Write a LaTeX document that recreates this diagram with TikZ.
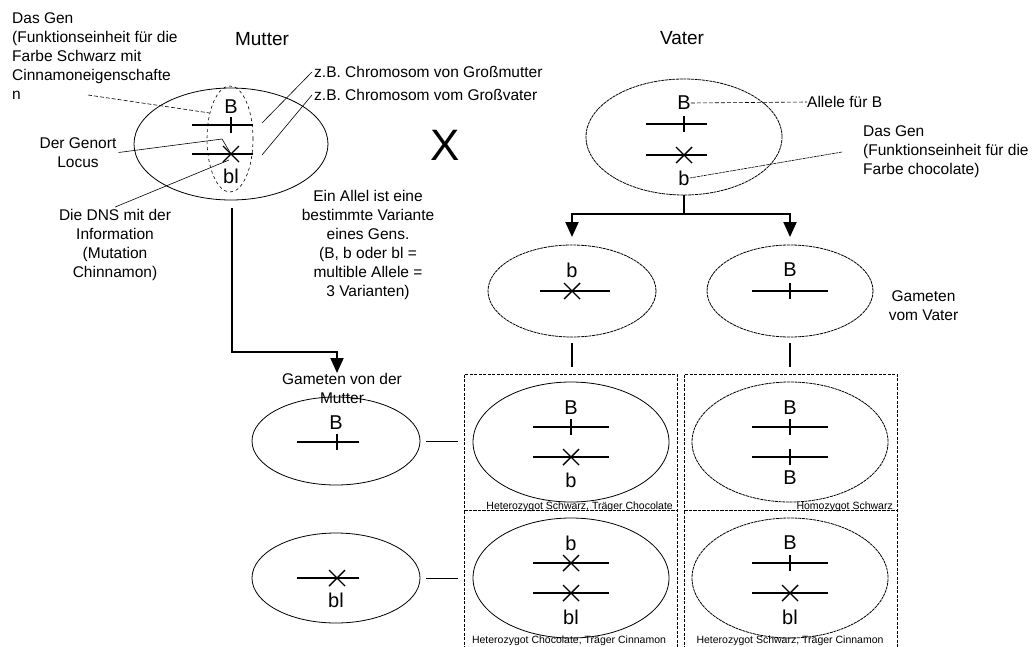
\documentclass[tikz,border=0pt]{standalone}
\usepackage{fontspec}
\setmainfont{Liberation Sans}
\usepackage{tikz}
\usetikzlibrary{arrows.meta, shapes.geometric}

\newcommand{\klein}{\fontsize{15.5}{19}\selectfont}
\newcommand{\winzig}{\fontsize{10.5}{12}\selectfont}
\newcommand{\allelfont}{\fontsize{20}{22}\selectfont}
\newcommand{\titelfont}{\fontsize{19}{22}\selectfont}

\tikzset{
  zelle/.style={rectangle, draw, line width=0.6pt, dash pattern=on 3pt off 1.5pt, minimum width=213pt, inner sep=0pt},
  zygote/.style={ellipse, draw, line width=0.8pt, inner sep=0pt, minimum width=196pt, minimum height=120pt},
  gamet/.style={ellipse, draw, line width=0.8pt, inner sep=0pt, minimum width=168pt, minimum height=90pt},
  fein/.style={dash pattern=on 3pt off 0.7pt},
  allel/.style={inner sep=0pt, font=\allelfont},
  info/.style={inner sep=2pt, font=\klein},
  typ/.style={inner sep=0pt, font=\winzig},
  chrom/.style={line width=1.4pt},
  zeiger/.style={line width=0.6pt},
  zeigerstrich/.style={line width=0.6pt, dash pattern=on 4pt off 2pt},
  strich/.style={line width=2pt},
  pfeil/.style={line width=2pt, -{Triangle[width=13pt,length=15pt]}},
  strichmarke/.pic={\draw[chrom] (0,-8) -- (0,8);},
  kreuzmarke/.pic={\draw[chrom] (-8,-8) -- (8,8) (-8,8) -- (8,-8);}
}

\begin{document}
\begin{tikzpicture}[x=1pt, y=-1pt]
\useasboundingbox (0,0) rectangle (1035,646);

% Mutter
\draw (262,39) node[info, font=\titelfont] (titelmutter) {Mutter};

\draw (231,144) node[ellipse, draw, line width=0.8pt, inner sep=0pt, minimum width=194pt, minimum height=112pt] (mutter) {};

\draw (230,139) node[ellipse, draw, dashed, line width=0.6pt, inner sep=0pt, minimum width=46pt, minimum height=106pt] (strang) {};

\draw[chrom] (192,125) -- (253,125);
\draw[chrom] (192,154) -- (253,154);
\pic at (231,125) {strichmarke};
\pic at (231,154) {kreuzmarke};
\draw (231,107) node[allel] (mB) {B};
\draw (231,176) node[allel] (mbl) {bl};

\coordinate (m-locus) at (231,154);
\coordinate (m-dns) at (229,160);
\coordinate (m-knick) at (222,139);
\coordinate (m-chr1) at (262,123);
\coordinate (m-chr2) at (262,155);
\coordinate (m-gen) at (88,95);

\draw (12,56.5) node[info, anchor=west, align=left, inner sep=0pt] (mgentext) {Das Gen\\(Funktionseinheit f\"ur die\\Farbe Schwarz mit\\Cinnamoneigenschafte\\n};

\draw (78,152.5) node[info, align=center] (genort) {Der Genort\\Locus};

\draw (115,245) node[info, align=center] (dns) {Die DNS mit der\\Information\\(Mutation\\Chinnamon)};

\draw (312,72) node[info, anchor=west] (grossmutter) {z.B. Chromosom von Gro\ss mutter};
\draw (312,95) node[info, anchor=west] (grossvater) {z.B. Chromosom vom Gro\ss vater};

\draw[zeigerstrich] (m-gen) -- (strang.128);
\draw[zeiger] (genort.east) -- (m-knick) -- (m-locus);
\draw[zeiger] (dns.north) -- (m-dns);
\draw[zeiger] (grossmutter.west) -- (m-chr1);
\draw[zeiger] (grossvater.west) -- (m-chr2);

% Kreuzung
\draw (445,145) node[inner sep=0pt, font=\fontsize{44}{48}\selectfont] (kreuzung) {X};

\draw (368,245) node[info, align=center] (allelinfo) {Ein Allel ist eine\\bestimmte Variante\\eines Gens.\\(B, b oder bl =\\multible Allele =\\3 Varianten)};

% Vater
\draw (682,38) node[info, font=\titelfont] (titelvater) {Vater};

\draw (684,137) node[zygote, fein, minimum height=116pt] (vater) {};

\draw[chrom] (646,124) -- (707,124);
\draw[chrom] (646,155) -- (707,155);
\pic at (684,124) {strichmarke};
\pic at (684,155) {kreuzmarke};
\draw (684,103) node[allel] (vB) {B};
\draw (684,178) node[allel] (vb) {b};

\draw (807,102) node[info, anchor=west, inner sep=0pt] (allelB) {Allele f\"ur B};
\draw (863,152) node[info, anchor=west, align=left, inner sep=0pt] (vgentext) {Das Gen\\(Funktionseinheit f\"ur die\\Farbe chocolate)};
\coordinate (v-gen) at (842,152);

\draw[zeigerstrich] (vB.east) -- (allelB.west);
\draw[zeiger, fein] (v-gen) -- (vb.east);

% Gameten vom Vater
\coordinate (v-knoten) at (684,214);
\coordinate (v-pfeil1) at (572,237);
\coordinate (v-pfeil2) at (790,237);
\draw[strich] (vater.south) -- (v-knoten);
\draw[pfeil] (v-knoten) -| (v-pfeil1);
\draw[pfeil] (v-knoten) -| (v-pfeil2);

\draw (572,291) node[gamet, fein, minimum height=92pt] (vg1) {};
\draw (790,291) node[gamet, fein, minimum width=166pt, minimum height=92pt] (vg2) {};

\draw[chrom] (540,291) -- (610,291);
\pic at (572,291) {kreuzmarke};
\draw (572,270) node[allel] (vg1b) {b};

\draw[chrom] (752,291) -- (828,291);
\pic at (790,291) {strichmarke};
\draw (790,270) node[allel] (vg2B) {B};

\draw (923.5,306) node[info, align=center] (gamvater) {Gameten\\vom Vater};

\draw[strich] (vg1.south) ++(0,6) -- ++(0,24);
\draw[strich] (vg2.south) ++(0,6) -- ++(0,24);

% Gameten von der Mutter
\coordinate (m-aus) at (232,208);
\coordinate (m-ecke) at (232,352);
\coordinate (m-ein) at (337,373);
\draw[pfeil] (m-aus) -- (m-ecke) -| (m-ein);

\draw (336,441) node[gamet, minimum height=88pt] (mg1) {};
\draw (336,578) node[gamet] (mg2) {};

\draw (342,388) node[info, align=center, fill=none] (gammutter) {Gameten von der\\Mutter};

\draw[chrom] (297,442) -- (359,442);
\pic at (337,442) {strichmarke};
\draw (336,423) node[allel] (mg1B) {B};

\draw[chrom] (297,578) -- (359,578);
\pic at (337,578) {kreuzmarke};
\draw (336,600) node[allel] (mg2bl) {bl};

\draw[zeiger, line width=1pt] (mg1.east) ++(6,0) -- ++(32,0);
\draw[zeiger, line width=1pt] (mg2.east) ++(6,0) -- ++(32,0);

% Kombinationen
\draw (570.5,442) node[zelle, minimum height=136pt] (c11) {};
\draw (790.5,442) node[zelle, minimum height=136pt] (c12) {};
\draw (570.5,580) node[zelle, minimum height=140pt] (c21) {};
\draw (790.5,580) node[zelle, minimum height=140pt] (c22) {};

\draw (571,442) node[zygote] (k11) {};
\draw (790,442) node[zygote, fein] (k12) {};
\draw (571,578) node[zygote] (k21) {};
\draw (790,578) node[zygote, fein] (k22) {};

\draw[chrom] (533,427) -- (609,427);
\draw[chrom] (533,457) -- (609,457);
\pic at (571,427) {strichmarke};
\pic at (571,457) {kreuzmarke};
\draw (571,408) node[allel] (k11B) {B};
\draw (571,480) node[allel] (k11b) {b};

\draw[chrom] (752,427) -- (828,427);
\draw[chrom] (752,457) -- (828,457);
\pic at (790,427) {strichmarke};
\pic at (790,457) {strichmarke};
\draw (790,408) node[allel] (k12B) {B};
\draw (790,478) node[allel] (k12BB) {B};

\draw[chrom] (533,563) -- (609,563);
\draw[chrom] (533,593) -- (609,593);
\pic at (571,563) {kreuzmarke};
\pic at (571,593) {kreuzmarke};
\draw (571,543) node[allel] (k21b) {b};
\draw (571,617) node[allel] (k21bl) {bl};

\draw[chrom] (752,563) -- (828,563);
\draw[chrom] (752,593) -- (828,593);
\pic at (790,563) {strichmarke};
\pic at (790,593) {kreuzmarke};
\draw (790,543) node[allel] (k22B) {B};
\draw (790,617) node[allel] (k22bl) {bl};

\draw (673,507) node[typ, anchor=east] (typ11) {Heterozygot Schwarz, Tr\"ager Chocolate};
\draw (893,507) node[typ, anchor=east] (typ12) {Homozygot Schwarz};
\draw (569,641) node[typ] (typ21) {Heterozygot Chocolate, Tr\"ager Cinnamon};
\draw (790,641) node[typ] (typ22) {Heterozygot Schwarz, Tr\"ager Cinnamon};

\end{tikzpicture}
\end{document}
